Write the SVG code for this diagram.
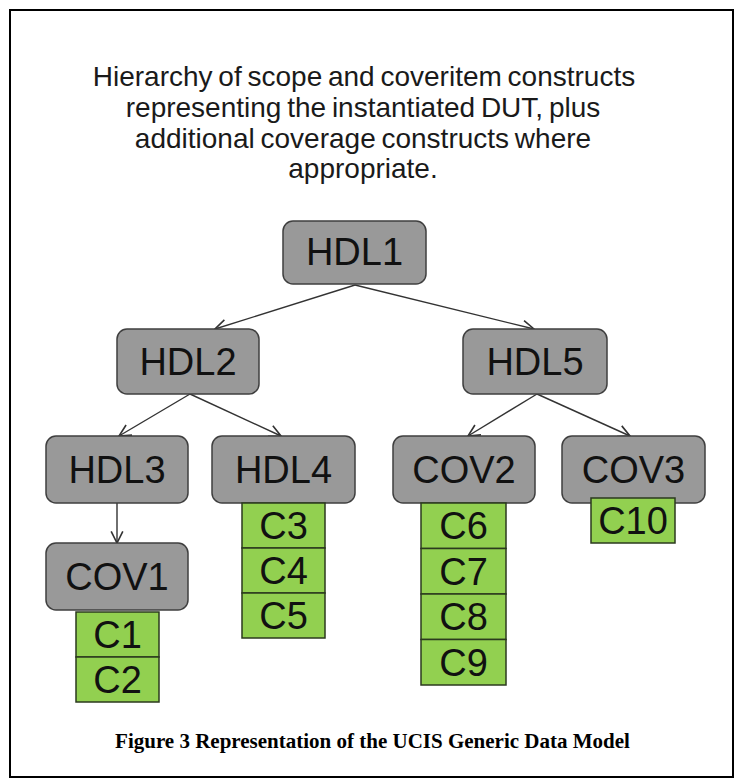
<svg xmlns="http://www.w3.org/2000/svg" width="738" height="783" viewBox="0 0 738 783">
<style>
.title{font-family:"Liberation Sans",Arial,sans-serif;font-size:28px;fill:#1a1a1a;text-anchor:middle;word-spacing:-2px}
.lbl{font-family:"Liberation Sans",Arial,sans-serif;font-size:38px;fill:#111;text-anchor:middle}
.scope{fill:#999999;stroke:#3f3f3f;stroke-width:1.5}
.item{fill:#92D050;stroke:#2b3a1e;stroke-width:1.5}
.cap{font-family:"Liberation Serif","Times New Roman",serif;font-size:21px;font-weight:bold;fill:#000;text-anchor:middle}
.edge{stroke:#333;stroke-width:1.4;fill:none;marker-end:url(#arr)}
</style>
<defs>
<marker id="arr" markerUnits="userSpaceOnUse" markerWidth="14" markerHeight="14" viewBox="0 0 12 12" refX="11" refY="6" orient="auto">
<path d="M1,1 L11,6 L1,11" fill="none" stroke="#333" stroke-width="1.4"/>
</marker>
</defs>
<rect x="0" y="0" width="738" height="783" fill="#fff"/>
<rect x="10" y="10" width="723" height="767" fill="#fff" stroke="#000" stroke-width="2"/>
<g id="title">
<text class="title" x="364" y="86">Hierarchy of scope and coveritem constructs</text>
<text class="title" x="363" y="116.5">representing the instantiated DUT, plus</text>
<text class="title" x="363" y="147.5">additional coverage constructs where</text>
<text class="title" x="363" y="178">appropriate.</text>
</g>
<g id="connectors">
<line class="edge" x1="355" y1="285" x2="215" y2="329"/>
<line class="edge" x1="355" y1="285" x2="534" y2="329"/>
<line class="edge" x1="190" y1="394" x2="119" y2="436"/>
<line class="edge" x1="190" y1="394" x2="281" y2="436"/>
<line class="edge" x1="537" y1="394" x2="468" y2="436"/>
<line class="edge" x1="537" y1="394" x2="630" y2="436"/>
<line class="edge" x1="117" y1="503" x2="117" y2="543"/>
</g>
<g id="HDL1"><rect class="scope" x="283" y="221" width="143" height="63" rx="10"/><text class="lbl" x="354.5" y="265">HDL1</text></g>
<g id="HDL2"><rect class="scope" x="117" y="329" width="142" height="65" rx="10"/><text class="lbl" x="188" y="375">HDL2</text></g>
<g id="HDL5"><rect class="scope" x="463" y="329" width="144" height="65" rx="10"/><text class="lbl" x="535" y="375">HDL5</text></g>
<g id="HDL3"><rect class="scope" x="46" y="436" width="142" height="67" rx="10"/><text class="lbl" x="117" y="483">HDL3</text></g>
<g id="HDL4"><rect class="scope" x="212" y="436" width="143" height="67" rx="10"/><text class="lbl" x="283.5" y="483">HDL4</text></g>
<g id="COV2"><rect class="scope" x="393" y="436" width="142" height="67" rx="10"/><text class="lbl" x="464" y="483">COV2</text></g>
<g id="COV3"><rect class="scope" x="562" y="436" width="143" height="67" rx="10"/><text class="lbl" x="633.5" y="483">COV3</text></g>
<g id="COV1"><rect class="scope" x="46" y="543" width="142" height="67" rx="10"/><text class="lbl" x="117" y="590">COV1</text></g>
<g id="C1"><rect class="item" x="76" y="612" width="83" height="45"/><text class="lbl" x="117.5" y="648">C1</text></g>
<g id="C2"><rect class="item" x="76" y="657" width="83" height="45"/><text class="lbl" x="117.5" y="693">C2</text></g>
<g id="C3"><rect class="item" x="242" y="503" width="83" height="45"/><text class="lbl" x="283.5" y="539">C3</text></g>
<g id="C4"><rect class="item" x="242" y="548" width="83" height="45"/><text class="lbl" x="283.5" y="584">C4</text></g>
<g id="C5"><rect class="item" x="242" y="593" width="83" height="45"/><text class="lbl" x="283.5" y="629">C5</text></g>
<g id="C6"><rect class="item" x="421" y="503" width="85" height="45.5"/><text class="lbl" x="463.5" y="539">C6</text></g>
<g id="C7"><rect class="item" x="421" y="548.5" width="85" height="45.5"/><text class="lbl" x="463.5" y="585">C7</text></g>
<g id="C8"><rect class="item" x="421" y="594" width="85" height="45.5"/><text class="lbl" x="463.5" y="630">C8</text></g>
<g id="C9"><rect class="item" x="421" y="639.5" width="85" height="45.5"/><text class="lbl" x="463.5" y="676">C9</text></g>
<g id="C10"><rect class="item" x="591" y="498" width="84" height="45"/><text class="lbl" x="633" y="534">C10</text></g>
<g id="caption"><text class="cap" x="372.5" y="748">Figure 3 Representation of the UCIS Generic Data Model</text></g>
</svg>
